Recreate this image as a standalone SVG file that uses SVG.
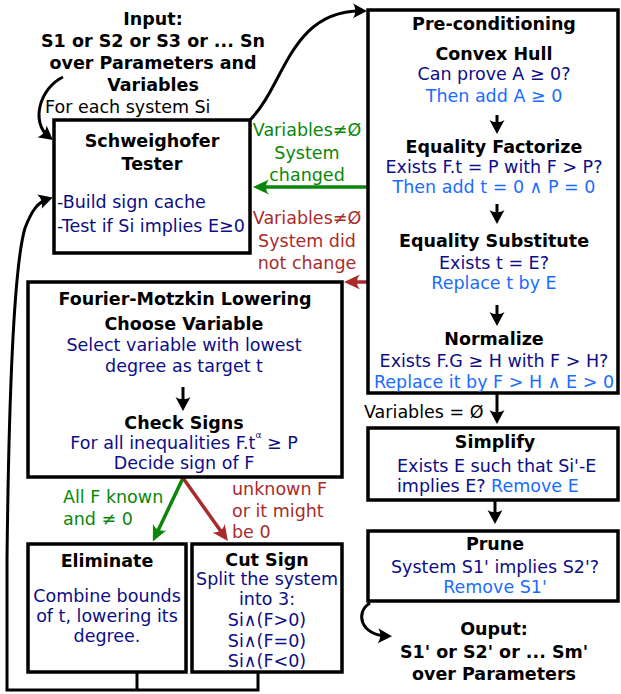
<svg xmlns="http://www.w3.org/2000/svg" width="621" height="694" viewBox="0 0 621 694">
<style>
text{font-family:"DejaVu Sans","Liberation Sans",sans-serif;font-size:17.5px;text-anchor:middle}
.b{font-weight:bold;fill:#000}
.k{fill:#000}
.n{fill:#0d0d86}
.l{fill:#1a6cff}
.g{fill:#0a870a}
.r{fill:#a82c2c}
.s{text-anchor:start}
.box{fill:#fff;stroke:#000;stroke-width:3.5}
.ln{fill:none;stroke:#000;stroke-width:3}
.gl{fill:none;stroke:#0a870a;stroke-width:3.5}
.rl{fill:none;stroke:#a82c2c;stroke-width:3.5}
</style>
<defs>
<marker id="ak" markerUnits="userSpaceOnUse" markerWidth="30" markerHeight="30" viewBox="-15 -15 30 30" refX="0" refY="0" orient="auto"><path d="M5,0 L-9,-7.5 C-6,-3 -6,3 -9,7.5 Z" fill="#000"/></marker>
<marker id="ag" markerUnits="userSpaceOnUse" markerWidth="30" markerHeight="30" viewBox="-15 -15 30 30" refX="0" refY="0" orient="auto"><path d="M5,0 L-11,-7.5 C-7,-3 -7,3 -11,7.5 Z" fill="#0a870a"/></marker>
<marker id="ar" markerUnits="userSpaceOnUse" markerWidth="30" markerHeight="30" viewBox="-15 -15 30 30" refX="0" refY="0" orient="auto"><path d="M5,0 L-11,-7.5 C-7,-3 -7,3 -11,7.5 Z" fill="#a82c2c"/></marker>
</defs>

<g id="connectors">
<path class="ln" d="M63 77 C40 88 30 122 49 137" marker-end="url(#ak)"/>
<path class="ln" d="M250 120 C285 85 290 10 362 11" marker-end="url(#ak)"/>
<path class="gl" d="M368 187 H258" marker-end="url(#ag)"/>
<path class="rl" d="M368 282 H349" marker-end="url(#ar)"/>
<path class="ln" d="M258 672 V690 H7 V560 C9 380 15 262 25 228 C32 210 38 202 48 199" marker-end="url(#ak)"/>
<path class="ln" d="M137 672 V690"/>
<path class="gl" d="M183 478 L155 537" marker-end="url(#ag)"/>
<path class="rl" d="M183 478 L225 537" marker-end="url(#ar)"/>
<path class="ln" d="M497 392 V419" marker-end="url(#ak)"/>
<path class="ln" d="M495 500 V519" marker-end="url(#ak)"/>
<path class="ln" d="M370 603 C355 612 360 635 387 636" marker-end="url(#ak)"/>
</g>

<g id="input">
<text class="b" x="153" y="25">Input:</text>
<text class="b" x="153" y="47">S1 or S2 or S3 or ... Sn</text>
<text class="b" x="153" y="69">over Parameters and</text>
<text class="b" x="153" y="91">Variables</text>
<text class="k s" x="45" y="113">For each system Si</text>
</g>

<g id="schweighofer">
<rect class="box" x="54" y="120" width="196" height="133"/>
<text class="b" x="152" y="147">Schweighofer</text>
<text class="b" x="152" y="170">Tester</text>
<text class="n s" x="57" y="208">-Build sign cache</text>
<text class="n s" x="57" y="232">-Test if Si implies E≥0</text>
</g>

<g id="labels">
<text class="g" x="307" y="136">Variables≠Ø</text>
<text class="g" x="307" y="159">System</text>
<text class="g" x="307" y="181">changed</text>
<text class="r" x="307" y="224">Variables≠Ø</text>
<text class="r" x="307" y="247">System did</text>
<text class="r" x="307" y="269">not change</text>
<text class="g s" x="63" y="503">All F known</text>
<text class="g s" x="63" y="525">and ≠ 0</text>
<text class="r s" x="232" y="495">unknown F</text>
<text class="r s" x="232" y="517">or it might</text>
<text class="r s" x="232" y="538">be 0</text>
<text class="k s" x="364" y="418">Variables = Ø</text>
</g>

<g id="preconditioning">
<rect class="box" x="368" y="10" width="250" height="383"/>
<text class="b" x="494" y="30">Pre-conditioning</text>
<text class="b" x="494" y="60">Convex Hull</text>
<text class="n" x="494" y="80">Can prove A ≥ 0?</text>
<text class="l" x="494" y="102">Then add A ≥ 0</text>
<path class="ln" d="M497 115 V129" marker-end="url(#ak)"/>
<text class="b" x="494" y="153">Equality Factorize</text>
<text class="n" x="494" y="173">Exists F.t = P with F &gt; P?</text>
<text class="l" x="494" y="193">Then add t = 0 ∧ P = 0</text>
<path class="ln" d="M497 204 V219" marker-end="url(#ak)"/>
<text class="b" x="494" y="247">Equality Substitute</text>
<text class="n" x="494" y="269">Exists t = E?</text>
<text class="l" x="494" y="289">Replace t by E</text>
<path class="ln" d="M497 305 V321" marker-end="url(#ak)"/>
<text class="b" x="494" y="345">Normalize</text>
<text class="n" x="494" y="367">Exists F.G ≥ H with F &gt; H?</text>
<text class="l" x="494" y="388">Replace it by F &gt; H ∧ E &gt; 0</text>
</g>

<g id="fourier-motzkin">
<rect class="box" x="28" y="282" width="314" height="195"/>
<text class="b" x="185" y="305">Fourier-Motzkin Lowering</text>
<text class="b" x="184" y="330">Choose Variable</text>
<text class="n" x="184" y="351">Select variable with lowest</text>
<text class="n" x="184" y="372">degree as target t</text>
<path class="ln" d="M183 387 V406" marker-end="url(#ak)"/>
<text class="b" x="184" y="429">Check Signs</text>
<text class="n" x="184" y="449">For all inequalities F.t<tspan font-size="9" dy="-11">α</tspan><tspan dy="11"> ≥ P</tspan></text>
<text class="n" x="184" y="469">Decide sign of F</text>
</g>

<g id="eliminate">
<rect class="box" x="28" y="544" width="158" height="128"/>
<text class="b" x="107" y="567">Eliminate</text>
<text class="n" x="107" y="602">Combine bounds</text>
<text class="n" x="107" y="622">of t, lowering its</text>
<text class="n" x="107" y="642">degree.</text>
</g>

<g id="cutsign">
<rect class="box" x="192" y="544" width="150" height="128"/>
<text class="b" x="267" y="566">Cut Sign</text>
<text class="n" x="267" y="585">Split the system</text>
<text class="n" x="267" y="605">into 3:</text>
<text class="n" x="267" y="626">Si∧(F&gt;0)</text>
<text class="n" x="267" y="647">Si∧(F=0)</text>
<text class="n" x="267" y="667">Si∧(F&lt;0)</text>
</g>

<g id="simplify">
<rect class="box" x="368" y="428" width="250" height="72"/>
<text class="b" x="495" y="448">Simplify</text>
<text class="n s" x="397" y="472">Exists E such that Si'-E</text>
<text class="n s" x="397" y="492">implies E? <tspan class="l">Remove E</tspan></text>
</g>

<g id="prune">
<rect class="box" x="368" y="531" width="250" height="70"/>
<text class="b" x="495" y="550">Prune</text>
<text class="n" x="495" y="573">System S1' implies S2'?</text>
<text class="l" x="495" y="593">Remove S1'</text>
</g>

<g id="output">
<text class="b" x="494" y="635">Ouput:</text>
<text class="b" x="494" y="658">S1' or S2' or ... Sm'</text>
<text class="b" x="494" y="680">over Parameters</text>
</g>
</svg>
